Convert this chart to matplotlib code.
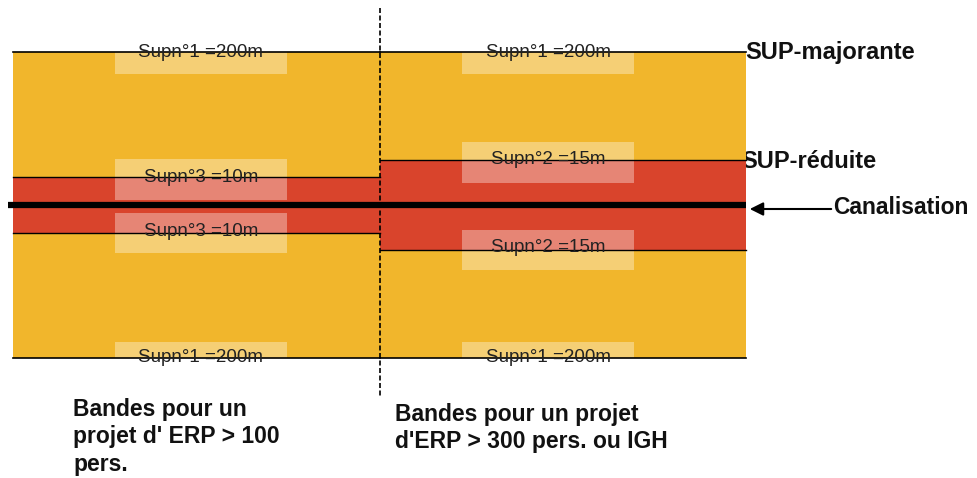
import matplotlib.pyplot as plt
from matplotlib.patches import Rectangle

# Servitudes d'utilite publique autour d'une canalisation (schema non a l'echelle)
zones = ['Bandes pour un\nprojet d\' ERP > 100\npers.',
         'Bandes pour un projet\nd\'ERP > 300 pers. ou IGH']
sup1_dist = [200, 200]          # SUP-majorante (m)
inner_dist = [10, 15]           # SUP-reduite (m)
inner_name = ['Supn°3', 'Supn°2']
side_labels = ['SUP-majorante', 'SUP-réduite', 'Canalisation']

# layout in pixels (drawing is not to scale)
x_edges = [13, 380, 746]
canal_y = 205
outer_half = [153, 153]
inner_half = [28, 45]

yellow = '#F1B62C'
red = '#D9442C'

fig = plt.figure(figsize=(9.78, 4.78), dpi=100)
ax = fig.add_axes([0, 0, 1, 1])
ax.set_xlim(0, 978)
ax.set_ylim(478, 0)
ax.axis('off')

for i in range(2):
    x0, x1 = x_edges[i], x_edges[i + 1]
    w = x1 - x0
    top = canal_y - outer_half[i]
    bot = canal_y + outer_half[i]
    ax.add_patch(Rectangle((x0, top), w, bot - top, color=yellow, lw=0, zorder=1))
    itop = canal_y - inner_half[i]
    ibot = canal_y + inner_half[i]
    ax.add_patch(Rectangle((x0, itop), w, ibot - itop, color=red, lw=0, zorder=2))

    # boundary lines
    for y in [top, bot, itop, ibot]:
        ax.plot([x0, x1], [y, y], color='black', lw=1.2 if y in (top, bot) else 1.0, zorder=4)

    # light label boxes
    bx = 115 + (462 - 115) * i
    bw = 172
    ax.add_patch(Rectangle((bx, top), bw, 22, color='white', alpha=0.35, lw=0, zorder=3))
    ax.add_patch(Rectangle((bx, bot - 16), bw, 16, color='white', alpha=0.35, lw=0, zorder=3))
    ax.add_patch(Rectangle((bx, itop - 18), bw, 41, color='white', alpha=0.35, lw=0, zorder=3))
    ax.add_patch(Rectangle((bx, ibot - 20), bw, 40, color='white', alpha=0.35, lw=0, zorder=3))

    cx = bx + bw / 2
    lab1 = 'Supn°1 =%dm' % sup1_dist[i]
    lab2 = '%s =%dm' % (inner_name[i], inner_dist[i])
    for y, s in [(top, lab1), (bot, lab1), (itop, lab2), (ibot - 2, lab2)]:
        ax.text(cx, y, s, ha='center', va='center', fontsize=13.5,
                family='Liberation Sans', color='#222222', zorder=5)

    ax.text([73, 395][i], [398, 403][i], zones[i], ha='left', va='top', fontsize=16.5,
            fontweight='bold', family='Liberation Sans', linespacing=1.24, color='#111111')

# pipeline
ax.plot([8, x_edges[-1]], [canal_y, canal_y], color='black', lw=4.5, zorder=6, solid_capstyle='butt')
ax.annotate('', xy=(x_edges[-1] + 1, canal_y + 4), xytext=(834, canal_y + 4),
            arrowprops=dict(arrowstyle='-|>', color='black', lw=1.5, mutation_scale=20), zorder=6)

# separation between the two cases
ax.plot([380, 380], [8, 398], color='black', lw=1.2, ls=(0, (3, 1.5)), zorder=7)

ax.text(745, 52, side_labels[0], ha='left', va='center', fontsize=17, fontweight='bold',
        family='Liberation Sans', color='#111111', zorder=0.5)
ax.text(741, 161, side_labels[1], ha='left', va='center', fontsize=17, fontweight='bold',
        family='Liberation Sans', color='#111111', zorder=0.5)
ax.text(833, 207, side_labels[2], ha='left', va='center', fontsize=16.5, fontweight='bold',
        family='Liberation Sans', color='#111111')

fig.savefig('out.png', dpi=100)
